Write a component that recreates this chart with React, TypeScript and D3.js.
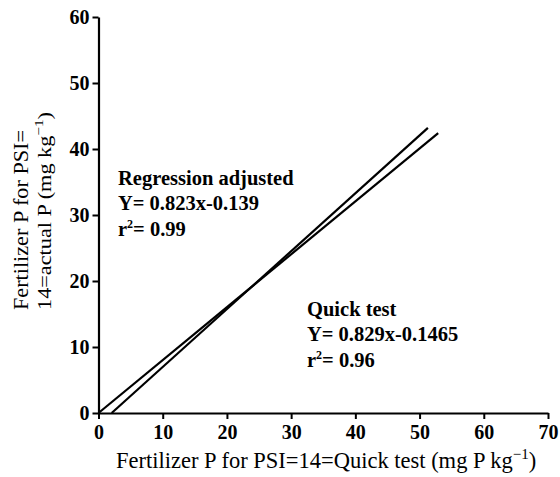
import React, { useRef, useEffect } from 'react';
import { select, scaleLinear, axisBottom, axisLeft, line } from 'd3';

// axis ticks
const xTicks = [0, 10, 20, 30, 40, 50, 60, 70];
const yTicks = [0, 10, 20, 30, 40, 50, 60];

// two fitted lines
const quickTestX = [0, 52.9];
const quickTestY = [0, 42.4];
const adjustedX = [2.05, 51.3];
const adjustedY = [0, 43.2];

const width = 560;
const height = 477;
const font = '"Liberation Serif", "Times New Roman", serif';

const App = () => {
  const svgRef = useRef<SVGSVGElement>(null);

  useEffect(() => {
    const svgEl = select(svgRef.current);
    svgEl.selectAll('*').remove();

    const x = scaleLinear().domain([0, 70]).range([98.5, 548]);
    const y = scaleLinear().domain([0, 60]).range([413, 17]);

    // x axis
    const xAxisGroup = svgEl
      .append('g')
      .attr('transform', `translate(0, ${y(0)})`)
      .call(axisBottom(x).tickValues(xTicks).tickSize(6).tickPadding(6).tickSizeOuter(0));
    xAxisGroup.select('.domain').attr('stroke', '#000').attr('stroke-width', 2.2);
    xAxisGroup.selectAll('line').attr('stroke', '#000').attr('stroke-width', 2);
    xAxisGroup
      .selectAll('text')
      .attr('fill', '#000')
      .style('font-family', font)
      .style('font-weight', 'bold')
      .style('font-size', '20px');

    // y axis
    const yAxisGroup = svgEl
      .append('g')
      .attr('transform', `translate(${x(0)}, 0)`)
      .call(axisLeft(y).tickValues(yTicks).tickSize(6).tickPadding(3).tickSizeOuter(0));
    yAxisGroup.select('.domain').attr('stroke', '#000').attr('stroke-width', 2.2);
    yAxisGroup.selectAll('line').attr('stroke', '#000').attr('stroke-width', 2);
    yAxisGroup
      .selectAll('text')
      .attr('fill', '#000')
      .style('font-family', font)
      .style('font-weight', 'bold')
      .style('font-size', '20px');

    // regression lines
    const chartLine = line<number[]>()
      .x(d => x(d[0]))
      .y(d => y(d[1]));

    const series = [
      quickTestX.map((v, i) => [v, quickTestY[i]]),
      adjustedX.map((v, i) => [v, adjustedY[i]]),
    ];

    svgEl
      .selectAll('.fit')
      .data(series)
      .enter()
      .append('path')
      .attr('class', 'fit')
      .attr('fill', 'none')
      .attr('stroke', '#000')
      .attr('stroke-width', 2.2)
      .attr('d', d => chartLine(d));

    // x-axis label
    const xLabel = svgEl
      .append('text')
      .attr('x', 116)
      .attr('y', 468)
      .style('font-family', font)
      .style('font-size', '22.5px')
      .attr('fill', '#000')
      .text('Fertilizer P for PSI=14=Quick test (mg P kg');
    xLabel.append('tspan').attr('dy', -9).style('font-size', '15px').text('\u22121');
    xLabel.append('tspan').attr('dy', 9).text(')');

    // y-axis label, two lines (squeezed like the original)
    const yLabel = svgEl
      .append('g')
      .attr('transform', 'translate(0, 310) rotate(-90)')
      .style('font-family', font)
      .attr('fill', '#000');
    yLabel
      .append('text')
      .attr('x', 0)
      .attr('y', 28)
      .attr('textLength', 180)
      .attr('lengthAdjust', 'spacingAndGlyphs')
      .style('font-size', '22px')
      .text('Fertilizer P for PSI=');
    const y2 = yLabel
      .append('text')
      .attr('x', 0)
      .attr('y', 50.5)
      .attr('textLength', 198)
      .attr('lengthAdjust', 'spacingAndGlyphs')
      .style('font-size', '19px')
      .text('14=actual P (mg kg');
    y2.append('tspan').attr('dy', -8).style('font-size', '13px').text('\u22121');
    y2.append('tspan').attr('dy', 8).text(')');

    // annotations
    const annotate = (ax: number, ay: number, title: string, eq: string, r2: string) => {
      const g = svgEl
        .append('g')
        .style('font-family', font)
        .style('font-weight', 'bold')
        .style('font-size', '20.5px')
        .attr('fill', '#000');
      g.append('text').attr('x', ax).attr('y', ay).text(title);
      g.append('text').attr('x', ax).attr('y', ay + 25).text(eq);
      const r = g.append('text').attr('x', ax).attr('y', ay + 51).text('r');
      r.append('tspan').attr('dy', -8).style('font-size', '12px').text('2');
      r.append('tspan').attr('dy', 8).text('= ' + r2);
    };
    annotate(118, 185, 'Regression adjusted', 'Y= 0.823x-0.139', '0.99');
    annotate(307, 316, 'Quick test', 'Y= 0.829x-0.1465', '0.96');
  }, []);

  return (
    <div style={{ position: 'absolute', left: 0, top: 0 }}>
      <svg ref={svgRef} width={width} height={height} style={{ display: 'block', background: '#fff' }}></svg>
    </div>
  );
};

export default App;
